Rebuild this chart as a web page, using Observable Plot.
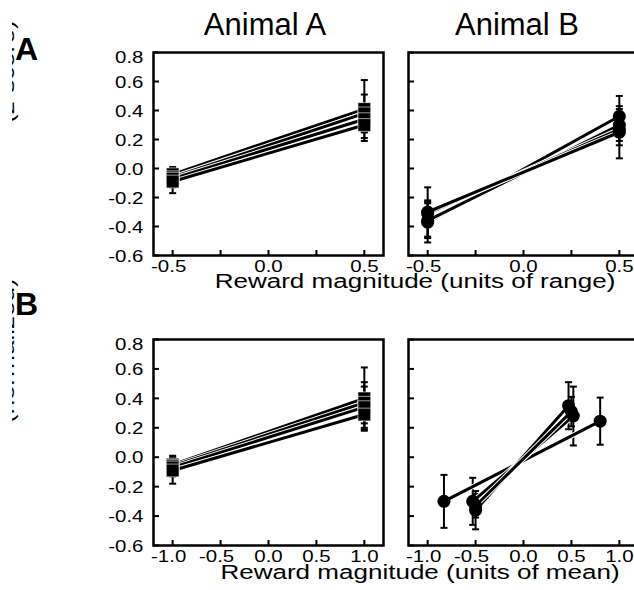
<!DOCTYPE html>
<html><head><meta charset="utf-8">
<script src="https://cdn.jsdelivr.net/npm/d3@7"></script>
<script src="https://cdn.jsdelivr.net/npm/@observablehq/plot@0.6"></script>
<style>
html,body{margin:0;padding:0;background:#fff;overflow:hidden;}
#root{position:relative;width:634px;height:590px;overflow:hidden;font-family:"Liberation Sans",Arial,sans-serif;background:#fff;}
</style></head><body><div id="root"></div>
<script>
// ---- data ----
const yTicks = [-0.6, -0.4, -0.2, 0, 0.2, 0.4, 0.6, 0.8];
const rangeTicks = [-0.5, -0.25, 0, 0.25, 0.5];
const rangeTickLabels = [-0.5, 0, 0.5];
const meanTicks = [-1, -0.5, 0, 0.5, 1];
const meanTickLabels = [-1, -0.5, 0, 0.5, 1];

const columnTitles = ["Animal A", "Animal B"];
const rowLetters = ["A", "B"];
const xTitles = ["Reward magnitude (units of range)", "Reward magnitude (units of mean)"];
const yTitles = ["(z-score)", "(normalized)"];

// Animal A, units of range
const rangeA_x = [[-0.5, 0.5], [-0.5, 0.5], [-0.5, 0.5], [-0.5, 0.5]];
const rangeA_y = [[-0.04, 0.41], [-0.06, 0.38], [-0.07, 0.34], [-0.09, 0.30]];
const rangeA_err = [[0.05, 0.20], [0.05, 0.13], [0.06, 0.09], [0.08, 0.11]];
// Animal B, units of range
const rangeB_x = [[-0.5, 0.5], [-0.5, 0.5], [-0.5, 0.5], [-0.5, 0.5]];
const rangeB_y = [[-0.37, 0.36], [-0.36, 0.30], [-0.31, 0.27], [-0.30, 0.25]];
const rangeB_err = [[0.14, 0.14], [0.12, 0.11], [0.09, 0.11], [0.17, 0.18]];
// Animal A, units of mean
const meanA_x = [[-1, 1], [-1, 1], [-1, 1], [-1, 1]];
const meanA_y = [[-0.05, 0.40], [-0.06, 0.37], [-0.07, 0.34], [-0.09, 0.29]];
const meanA_err = [[0.06, 0.21], [0.05, 0.14], [0.06, 0.14], [0.09, 0.11]];
// Animal B, units of mean
const meanB_x = [[-0.83, 0.80], [-0.53, 0.52], [-0.50, 0.47], [-0.50, 0.50]];
const meanB_y = [[-0.30, 0.245], [-0.30, 0.28], [-0.36, 0.35], [-0.33, 0.31]];
const meanB_err = [[0.18, 0.16], [0.16, 0.20], [0.13, 0.16], [0.08, 0.10]];

// ---- drawing ----
const FONT = '"Liberation Sans", Arial, sans-serif';
const SX = 1.24; // horizontal stretch of the original lettering
const root = document.getElementById("root");

const capSymbol = {
  draw(ctx, size) { const w = Math.sqrt(size / Math.PI); ctx.moveTo(-w, 0); ctx.lineTo(w, 0); }
};

function addPanel(cfg) {
  const mL = 62, mT = 6, mR = 6, mB = 36, fw = 230;
  const W = mL + fw + mR, H = mT + cfg.frameH + mB;
  const rows = [];
  cfg.ys.forEach((ys, si) => ys.forEach((y, j) =>
    rows.push({s: si, x: cfg.xs[si][j], y, err: cfg.errs[si][j]})));
  const marks = [];
  marks.push(Plot.axisY(yTicks, {tickSize: -6, strokeWidth: 2, tickFormat: () => "", label: null}));
  if (cfg.yLabels) marks.push(Plot.axisY(yTicks, {tickSize: 0, tickPadding: 10, fontSize: 16.5, tickFormat: d => d.toFixed(1), label: null}));
  marks.push(Plot.axisX(cfg.xTicks, {tickSize: -5, strokeWidth: 2, tickFormat: () => "", label: null}));
  marks.push(Plot.axisX(cfg.xLabels, {tickSize: 0, tickPadding: 5, fontSize: 16.5, tickFormat: d => d.toFixed(1), label: null}));
  marks.push(Plot.frame({stroke: "black", strokeWidth: 2.5}));
  marks.push(Plot.ruleX(rows, {x: "x", y1: d => d.y - d.err, y2: d => d.y + d.err, stroke: "black", strokeWidth: 2}));
  marks.push(Plot.dot(rows, {x: "x", y: d => d.y - d.err, symbol: capSymbol, r: 3.5, fill: "none", stroke: "black", strokeWidth: 2}));
  marks.push(Plot.dot(rows, {x: "x", y: d => d.y + d.err, symbol: capSymbol, r: 3.5, fill: "none", stroke: "black", strokeWidth: 2}));
  for (let s = 0; s < cfg.ys.length; s++) {
    const sub = rows.filter(d => d.s === s);
    marks.push(Plot.line(sub, {x: "x", y: "y", stroke: "white", strokeWidth: 5}));
    marks.push(Plot.line(sub, {x: "x", y: "y", stroke: "black", strokeWidth: 3}));
  }
  marks.push(Plot.dot(rows, {x: "x", y: "y", symbol: cfg.symbol, r: cfg.r, fill: "black",
    stroke: cfg.symbol === "square" ? "white" : "none", strokeWidth: 0.6}));
  const chart = Plot.plot({
    width: W, height: H, marginLeft: mL, marginTop: mT, marginRight: mR, marginBottom: mB,
    x: {domain: cfg.xDomain, axis: null, label: null},
    y: {domain: [-0.6, 0.8], axis: null, label: null},
    style: {background: "transparent", overflow: "visible", fontFamily: FONT, color: "black"},
    marks
  });
  chart.style.position = "absolute";
  chart.style.left = (cfg.left - mL) + "px";
  chart.style.top = (cfg.top - mT) + "px";
  chart.querySelectorAll("text").forEach(t => {
    const tr = t.getAttribute("transform") || "";
    const isX = t.closest('g[aria-label="x-axis tick label"]');
    const str = t.textContent;
    let extra = "";
    if (isX && str.startsWith("-")) extra = " translate(-4,0)";
    if (!isX && str === "0.8") extra = " translate(0,5)";
    else if (!isX) extra = " translate(0,1)";
    t.setAttribute("transform", tr + extra + ` scale(${SX},1)`);
  });
  root.appendChild(chart);
}

addPanel({left: 153, top: 52, frameH: 203, xDomain: [-0.6, 0.6], xTicks: rangeTicks, xLabels: rangeTickLabels,
  xs: rangeA_x, ys: rangeA_y, errs: rangeA_err, symbol: "square", r: 7.2, yLabels: true});
addPanel({left: 408, top: 52, frameH: 203, xDomain: [-0.6, 0.6], xTicks: rangeTicks, xLabels: rangeTickLabels,
  xs: rangeB_x, ys: rangeB_y, errs: rangeB_err, symbol: "circle", r: 6.5, yLabels: false});
addPanel({left: 153, top: 339, frameH: 206, xDomain: [-1.2, 1.2], xTicks: meanTicks, xLabels: meanTickLabels,
  xs: meanA_x, ys: meanA_y, errs: meanA_err, symbol: "square", r: 7.2, yLabels: true});
addPanel({left: 408, top: 339, frameH: 206, xDomain: [-1.2, 1.2], xTicks: meanTicks, xLabels: meanTickLabels,
  xs: meanB_x, ys: meanB_y, errs: meanB_err, symbol: "circle", r: 6.5, yLabels: false});

// ---- text overlay ----
const ov = d3.select(root).append("svg")
  .attr("width", 634).attr("height", 590)
  .style("position", "absolute").style("left", "0px").style("top", "0px")
  .style("font-family", FONT).style("pointer-events", "none");

const titleX = [265, 517];
columnTitles.forEach((t, i) => ov.append("text").attr("x", titleX[i]).attr("y", 35)
  .attr("text-anchor", "middle").attr("font-size", 31).text(t));

const letterY = [60, 315];
rowLetters.forEach((t, i) => ov.append("text").attr("x", 15).attr("y", letterY[i])
  .attr("font-size", 32).attr("font-weight", "bold").text(t));

const xTitlePos = [[415, 288], [420, 579]];
xTitles.forEach((t, i) => ov.append("text")
  .attr("transform", `translate(${xTitlePos[i][0]},${xTitlePos[i][1]}) scale(${SX},1)`)
  .attr("text-anchor", "middle").attr("font-size", 21).text(t));

ov.append("defs").append("clipPath").attr("id", "yclip")
  .append("rect").attr("x", 12).attr("y", 0).attr("width", 8).attr("height", 590);
const gy = ov.append("g").attr("clip-path", "url(#yclip)");
const yTitleStart = [123, 423];
yTitles.forEach((t, i) => gy.append("text")
  .attr("transform", `translate(14,${yTitleStart[i]}) rotate(-90) scale(${SX},1)`)
  .attr("font-size", 21).text(t));
</script></body></html>
